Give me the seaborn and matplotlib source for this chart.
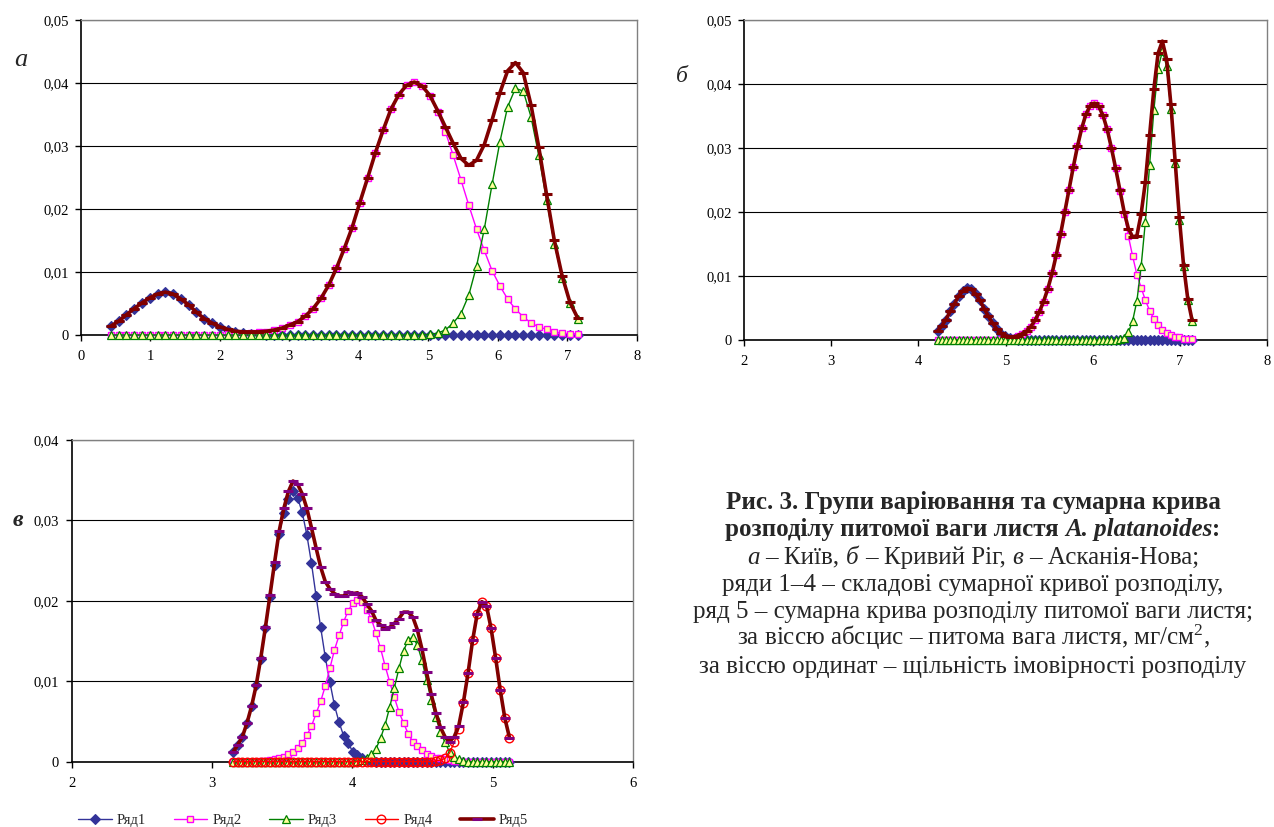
import numpy as np
import matplotlib
matplotlib.use("Agg")
import matplotlib.pyplot as plt
import seaborn as sns
from matplotlib.ticker import FuncFormatter

# ---------------- data ----------------
# panel а (Київ): 61 sample points from 0.43 to 7.15
xa_start, xa_stop, xa_n = 0.43, 7.15, 61
a_r1 = [0.0014, 0.0022, 0.0032, 0.0042, 0.0051, 0.0059, 0.0065, 0.0068, 0.0065, 0.0057,
        0.0048, 0.0036, 0.0026, 0.0019, 0.0012, 0.0008, 0.0005, 0.0003, 0.0002, 0.0001,
        0, 0, 0, 0, 0, 0, 0, 0, 0, 0,
        0, 0, 0, 0, 0, 0, 0, 0, 0, 0,
        0, 0, 0, 0, 0, 0, 0, 0, 0, 0,
        0, 0, 0, 0, 0, 0, 0, 0, 0, 0,
        0]
a_r2 = [0, 0, 0, 0, 0, 0, 0, 0, 0, 0,
        0, 0, 0.00002, 0.00003, 0.00005, 0.00008, 0.00013, 0.0002, 0.0003, 0.0004,
        0.0005, 0.0008, 0.0011, 0.0016, 0.0021, 0.0030, 0.0042, 0.0058, 0.0079, 0.0106,
        0.0137, 0.0170, 0.0210, 0.0249, 0.0289, 0.0325, 0.0358, 0.0381, 0.0396, 0.0401,
        0.0395, 0.0379, 0.0353, 0.0322, 0.0285, 0.0246, 0.0206, 0.0168, 0.0134, 0.0102,
        0.0078, 0.0057, 0.0041, 0.0029, 0.0019, 0.0013, 0.0009, 0.0005, 0.0003, 0.0002,
        0.0001]
a_r3 = [0, 0, 0, 0, 0, 0, 0, 0, 0, 0,
        0, 0, 0, 0, 0, 0, 0, 0, 0, 0,
        0, 0, 0, 0, 0, 0, 0, 0, 0, 0,
        0, 0, 0, 0, 0, 0, 0, 0, 0, 0,
        0.00005, 0.0001, 0.0003, 0.0008, 0.0019, 0.0034, 0.0063, 0.0109, 0.0168, 0.0239,
        0.0306, 0.0362, 0.0391, 0.0387, 0.0346, 0.0285, 0.0214, 0.0145, 0.0091, 0.0050,
        0.0026]
a_r5 = [0.0014, 0.0022, 0.0032, 0.0042, 0.0051, 0.0059, 0.0065, 0.0068, 0.0065, 0.0057,
        0.0048, 0.0036, 0.0026, 0.0019, 0.0013, 0.0009, 0.0006, 0.0005, 0.0005, 0.0005,
        0.0006, 0.0008, 0.0011, 0.0016, 0.0021, 0.0030, 0.0042, 0.0058, 0.0079, 0.0106,
        0.0137, 0.0170, 0.0210, 0.0249, 0.0289, 0.0325, 0.0358, 0.0381, 0.0396, 0.0401,
        0.0395, 0.0380, 0.0356, 0.0330, 0.0304, 0.0280, 0.0269, 0.0277, 0.0302, 0.0341,
        0.0384, 0.0419, 0.0432, 0.0416, 0.0365, 0.0298, 0.0223, 0.0150, 0.0094, 0.0052,
        0.0027]

# panel б (Кривий Ріг): 61 sample points from 4.22 to 7.14
xb_start, xb_stop, xb_n = 4.22, 7.14, 61
b_r1 = [0.0014, 0.0022, 0.0032, 0.0045, 0.0057, 0.0069, 0.0077, 0.0081, 0.0079, 0.0072,
        0.0062, 0.0049, 0.0037, 0.0026, 0.0017, 0.0010, 0.0006, 0.0003, 0.00015, 0.00007,
        0.00003, 0, 0, 0, 0, 0, 0, 0, 0, 0,
        0, 0, 0, 0, 0, 0, 0, 0, 0, 0,
        0, 0, 0, 0, 0, 0, 0, 0, 0, 0,
        0, 0, 0, 0, 0, 0, 0, 0, 0, 0,
        0]
b_r2 = [0, 0, 0, 0, 0, 0, 0, 0, 0, 0,
        0, 0, 0, 0, 0.00004, 0.00008, 0.00014, 0.00023, 0.00038, 0.0006,
        0.0009, 0.0014, 0.0021, 0.0031, 0.0044, 0.0060, 0.0080, 0.0104, 0.0133, 0.0165,
        0.0200, 0.0235, 0.0270, 0.0303, 0.0331, 0.0353, 0.0366, 0.0370, 0.0365, 0.0351,
        0.0329, 0.0300, 0.0268, 0.0233, 0.0197, 0.0162, 0.0131, 0.0102, 0.0082, 0.0062,
        0.0046, 0.0033, 0.0024, 0.0016, 0.0011, 0.0008, 0.0005, 0.0004, 0.0002, 0.0001,
        0.0001]
b_r3 = [0, 0, 0, 0, 0, 0, 0, 0, 0, 0,
        0, 0, 0, 0, 0, 0, 0, 0, 0, 0,
        0, 0, 0, 0, 0, 0, 0, 0, 0, 0,
        0, 0, 0, 0, 0, 0, 0, 0, 0, 0,
        0, 0, 0.00003, 0.0001, 0.0003, 0.0012, 0.0030, 0.0061, 0.0115, 0.0185,
        0.0274, 0.0359, 0.0424, 0.0451, 0.0428, 0.0361, 0.0276, 0.0188, 0.0115, 0.0063,
        0.0030]
b_r5 = [0.0014, 0.0022, 0.0032, 0.0045, 0.0057, 0.0069, 0.0077, 0.0081, 0.0079, 0.0072,
        0.0062, 0.0049, 0.0037, 0.0026, 0.0017, 0.0011, 0.0007, 0.0005, 0.0005, 0.0007,
        0.0010, 0.0014, 0.0021, 0.0031, 0.0044, 0.0060, 0.0080, 0.0104, 0.0133, 0.0165,
        0.0200, 0.0235, 0.0270, 0.0303, 0.0331, 0.0353, 0.0366, 0.0370, 0.0365, 0.0351,
        0.0329, 0.0300, 0.0268, 0.0234, 0.0200, 0.0174, 0.0161, 0.0163, 0.0197, 0.0247,
        0.0320, 0.0392, 0.0448, 0.0467, 0.0439, 0.0369, 0.0281, 0.0192, 0.0117, 0.0064,
        0.0031]

# panel в (Асканія-Нова): 61 sample points from 3.15 to 5.118
xc_start, xc_stop, xc_n = 3.15, 5.118, 61
c_r1 = [0.0012, 0.0021, 0.0031, 0.0048, 0.0069, 0.0095, 0.0128, 0.0166, 0.0205, 0.0245,
        0.0283, 0.0309, 0.0327, 0.0337, 0.0328, 0.0310, 0.0282, 0.0247, 0.0206, 0.0167,
        0.0130, 0.0099, 0.0070, 0.0049, 0.0032, 0.0023, 0.0012, 0.0008, 0.0004, 0.0002,
        0.0001, 0, 0, 0, 0, 0, 0, 0, 0, 0,
        0, 0, 0, 0, 0, 0, 0, 0, 0, 0,
        0, 0, 0, 0, 0, 0, 0, 0, 0, 0,
        0]
c_r2 = [0, 0, 0, 0, 0, 0, 0.0001, 0.0001, 0.0002, 0.0003,
        0.0004, 0.0006, 0.0009, 0.0012, 0.0017, 0.0023, 0.0033, 0.0044, 0.0060, 0.0075,
        0.0094, 0.0116, 0.0139, 0.0157, 0.0174, 0.0188, 0.0197, 0.0201, 0.0199, 0.0189,
        0.0178, 0.0160, 0.0141, 0.0119, 0.0099, 0.0080, 0.0062, 0.0048, 0.0035, 0.0025,
        0.0019, 0.0014, 0.0010, 0.0007, 0.0005, 0.0004, 0.0003, 0.0002, 0.0001, 0.0001,
        0, 0, 0, 0, 0, 0, 0, 0, 0, 0,
        0]
c_r3 = [0, 0, 0, 0, 0, 0, 0, 0, 0, 0,
        0, 0, 0, 0, 0, 0, 0, 0, 0, 0,
        0, 0, 0, 0, 0, 0, 0, 0.0001, 0.0002, 0.0005,
        0.0009, 0.0016, 0.0029, 0.0046, 0.0068, 0.0092, 0.0116, 0.0138, 0.0151, 0.0155,
        0.0145, 0.0126, 0.0101, 0.0077, 0.0055, 0.0037, 0.0024, 0.0012, 0.0006, 0.0003,
        0.0001, 0, 0, 0, 0, 0, 0, 0, 0, 0,
        0]
c_r4 = [0, 0, 0, 0, 0, 0, 0, 0, 0, 0,
        0, 0, 0, 0, 0, 0, 0, 0, 0, 0,
        0, 0, 0, 0, 0, 0, 0, 0, 0, 0,
        0, 0, 0, 0, 0, 0, 0, 0, 0, 0,
        0, 0, 0, 0, 0.0001, 0.0002, 0.0004, 0.0011, 0.0024, 0.0041,
        0.0073, 0.0110, 0.0151, 0.0184, 0.0199, 0.0194, 0.0166, 0.0129, 0.0089, 0.0054,
        0.0030]
c_r5 = [0.0012, 0.0021, 0.0031, 0.0048, 0.0069, 0.0095, 0.0129, 0.0167, 0.0207, 0.0248,
        0.0287, 0.0315, 0.0336, 0.0349, 0.0345, 0.0333, 0.0315, 0.0291, 0.0266, 0.0242,
        0.0224, 0.0215, 0.0209, 0.0206, 0.0206, 0.0211, 0.0209, 0.0210, 0.0205, 0.0196,
        0.0188, 0.0176, 0.0170, 0.0165, 0.0167, 0.0172, 0.0178, 0.0186, 0.0186, 0.0180,
        0.0164, 0.0140, 0.0111, 0.0084, 0.0061, 0.0043, 0.0031, 0.0025, 0.0031, 0.0045,
        0.0074, 0.0110, 0.0151, 0.0184, 0.0199, 0.0194, 0.0166, 0.0129, 0.0089, 0.0054,
        0.0030]

series_names = ["Ряд1", "Ряд2", "Ряд3", "Ряд4", "Ряд5"]
panel_letters = ["а", "б", "в"]
caption_lines = [
    [("Рис. 3. Групи варіювання та сумарна крива", "bold", "normal", False)],
    [("розподілу питомої ваги листя", "bold", "normal", False),
     ("A. platanoides", "bold", "italic", True),
     (":", "bold", "normal", False)],
    [("а", "normal", "italic", False), ("– Київ,", "normal", "normal", True),
     ("б", "normal", "italic", True), ("– Кривий Ріг,", "normal", "normal", True),
     ("в", "normal", "italic", True), ("– Асканія-Нова;", "normal", "normal", True)],
    [("ряди 1–4 – складові сумарної кривої розподілу,", "normal", "normal", False)],
    [("ряд 5 – сумарна крива розподілу питомої ваги листя;", "normal", "normal", False)],
    [("за віссю абсцис – питома вага листя, мг/см$^{2}$,", "normal", "normal", False)],
    [("за віссю ординат – щільність імовірності розподілу", "normal", "normal", False)],
]

# ---------------- style ----------------
sns.set_style("white")
plt.rcParams['font.family'] = ['Liberation Serif', 'DejaVu Serif']
plt.rcParams['mathtext.fontset'] = 'custom'
plt.rcParams['mathtext.rm'] = 'Liberation Serif'
plt.rcParams['mathtext.it'] = 'Liberation Serif:italic'
plt.rcParams['mathtext.bf'] = 'Liberation Serif:bold'

W, H = 1274, 827
fig = plt.figure(figsize=(W / 100, H / 100), dpi=100)
fig.patch.set_facecolor('white')


def ax_at(x0, y0, x1, y1):
    return fig.add_axes([x0 / W, 1 - y1 / H, (x1 - x0) / W, (y1 - y0) / H])


ax_a = ax_at(81, 19.7, 636.7, 335)
ax_b = ax_at(744, 20, 1267, 340)
ax_c = ax_at(71.7, 440, 633.3, 761.7)


def series_style(name, dash_color):
    if name == "Ряд1":
        return dict(color='#333399', marker='D', markersize=4.6, markerfacecolor='#333399',
                    markeredgecolor='#333399', markeredgewidth=0.8, linewidth=1.0, zorder=3)
    if name == "Ряд2":
        return dict(color='#FF00FF', marker='s', markersize=5.0, markerfacecolor='#FFFF99',
                    markeredgecolor='#FF00FF', markeredgewidth=1.0, linewidth=1.0, zorder=4)
    if name == "Ряд3":
        return dict(color='#008000', marker='^', markersize=5.6, markerfacecolor='#FFFF99',
                    markeredgecolor='#008000', markeredgewidth=0.9, linewidth=1.0, zorder=5)
    if name == "Ряд4":
        return dict(color='#FF0000', marker='o', markersize=6.2, markerfacecolor='none',
                    markeredgecolor='#FF0000', markeredgewidth=1.0, linewidth=1.0, zorder=6)
    return dict(color='#800000', marker='_', markersize=7.0, markeredgecolor=dash_color,
                markeredgewidth=2.2, linewidth=2.6, zorder=7)


def fmt(v, pos):
    if abs(v) < 1e-12:
        return "0"
    return f"{v:.2f}".replace(".", ",")


def draw_panel(ax, xs, ys_list, names, dash_color):
    for name, ys in zip(names, ys_list):
        sns.lineplot(x=xs, y=np.asarray(ys, dtype=float), ax=ax, errorbar=None,
                     legend=False, label=name, **series_style(name, dash_color))


def style_ax(ax, xlim, xticks, ymax):
    ax.set_xlim(*xlim)
    ax.set_ylim(0, ymax)
    ax.set_xticks(xticks)
    ax.set_yticks(np.arange(0, ymax + 1e-9, 0.01))
    ax.yaxis.set_major_formatter(FuncFormatter(fmt))
    ax.xaxis.set_major_formatter(FuncFormatter(lambda v, p: f"{v:g}"))
    ax.set_axisbelow(True)
    ax.grid(False)
    ax.yaxis.grid(True, color='black', linewidth=0.8)
    for s in ("top", "right"):
        ax.spines[s].set_color('#808080')
        ax.spines[s].set_linewidth(1.0)
    for s in ("left", "bottom"):
        ax.spines[s].set_color('black')
        ax.spines[s].set_linewidth(1.2)
    ax.tick_params(axis='both', which='major', direction='out', length=4, width=1,
                   colors='black', labelsize=10.5, bottom=True, left=True, pad=5)
    ax.tick_params(axis='x', pad=7)
    ax.set_xlabel("")
    ax.set_ylabel("")
    for lab in ax.get_xticklabels() + ax.get_yticklabels():
        lab.set_family(['Liberation Serif', 'DejaVu Serif'])


xa = np.linspace(xa_start, xa_stop, xa_n)
xb = np.linspace(xb_start, xb_stop, xb_n)
xc = np.linspace(xc_start, xc_stop, xc_n)

draw_panel(ax_a, xa, [a_r1, a_r2, a_r3, a_r5], ["Ряд1", "Ряд2", "Ряд3", "Ряд5"], '#800000')
draw_panel(ax_b, xb, [b_r1, b_r2, b_r3, b_r5], ["Ряд1", "Ряд2", "Ряд3", "Ряд5"], '#800000')
draw_panel(ax_c, xc, [c_r1, c_r2, c_r3, c_r4, c_r5], series_names, '#800080')

style_ax(ax_a, (0, 8), range(0, 9), 0.05)
style_ax(ax_b, (2, 8), range(2, 9), 0.05)
style_ax(ax_c, (2, 6), range(2, 7), 0.04)
for ax in (ax_a, ax_b, ax_c):
    for line in ax.lines:
        line.set_clip_on(False)

# panel letters
fig.text(14 / W, 1 - 60 / H, panel_letters[0], fontsize=19, style='italic', va='center', ha='left')
fig.text(676 / W, 1 - 76 / H, panel_letters[1], fontsize=17, style='italic', va='center', ha='left')
fig.text(13 / W, 1 - 520 / H, panel_letters[2], fontsize=17, style='italic', weight='bold',
         va='center', ha='left')

# legend
handles, labels = ax_c.get_legend_handles_labels()
fig.legend(handles, labels, loc='center', bbox_to_anchor=(303 / W, 1 - 820 / H), ncol=5,
           frameon=False, fontsize=10.5, handlelength=2.3, handletextpad=0.35,
           columnspacing=1.9, borderaxespad=0, borderpad=0)

# caption with mixed styles
renderer = fig.canvas.get_renderer()
cap_size = 18
t1 = fig.text(0, 0, "x x", fontsize=cap_size)
t2 = fig.text(0, 0, "xx", fontsize=cap_size)
space_w = t1.get_window_extent(renderer).width - t2.get_window_extent(renderer).width
t1.remove()
t2.remove()

x_center = 973
first_baseline = 509
line_step = 27.3
for i, segs in enumerate(caption_lines):
    yb = 1 - (first_baseline + i * line_step) / H
    arts, widths, gaps = [], [], []
    for text, weight, style, sp in segs:
        t = fig.text(0, yb, text, fontsize=cap_size, weight=weight, style=style,
                     ha='left', va='baseline')
        arts.append(t)
        widths.append(t.get_window_extent(renderer).width)
        gaps.append(space_w if sp else 0.0)
    total = sum(widths) + sum(gaps)
    x = x_center - total / 2
    for t, w, g in zip(arts, widths, gaps):
        x += g
        t.set_x(x / W)
        x += w

fig.savefig("out.png", dpi=100, facecolor='white')
